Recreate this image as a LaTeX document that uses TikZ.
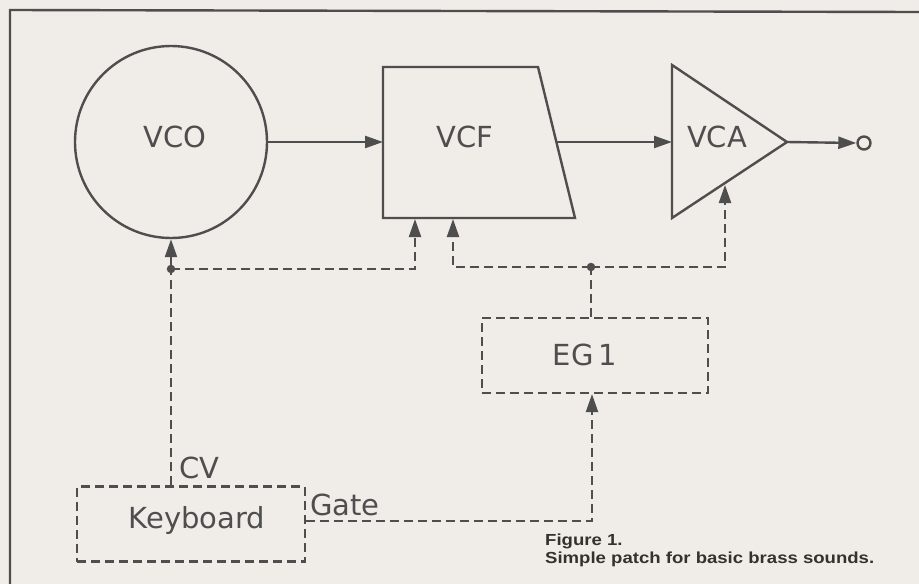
\documentclass[tikz,border=0pt]{standalone}
\usepackage{fontspec}
\usepackage{graphicx}
\usetikzlibrary{arrows.meta}
\setmainfont{DejaVu Sans}
\newfontfamily\capfont{Liberation Sans}
\definecolor{bg}{RGB}{240,236,232}
\definecolor{ink}{RGB}{78,78,78}
\definecolor{capink}{RGB}{50,50,46}
\begin{document}
\begin{tikzpicture}[x=1pt,y=-1pt,
  solidln/.style={draw=ink,line width=2.4pt},
  dline/.style={draw=ink,line width=2.2pt,dash pattern=on 9pt off 5pt},
  arr/.style={-{Triangle[length=18pt,width=12pt]}},
  lbl/.style={text=ink,font=\fontsize{29}{34}\selectfont,inner sep=0pt},
  dbox/.style={dline,rectangle,inner sep=0pt},
  dotnode/.style={circle,fill=ink,inner sep=0pt,minimum size=8.5pt},
  captext/.style={text=capink,font=\capfont\bfseries\fontsize{16}{19}\selectfont,inner sep=0pt,anchor=base west}]
\fill[bg] (0,0) rectangle (919,584);
\useasboundingbox (0,0) rectangle (919,584);
% frame
\draw[solidln] (10,584) -- (10,10) -- (919,12);
% VCO
\node[circle,solidln,minimum size=192pt,inner sep=0pt] (vco) at (171,142) {};
\node[lbl] (vcot) at (175,137) {VCO};
% VCF trapezoid
\coordinate (vcftl) at (383,67);
\coordinate (vcftr) at (538,67);
\coordinate (vcfbr) at (575,218);
\coordinate (vcfbl) at (383,218);
\draw[solidln] (vcftl) -- (vcftr) -- (vcfbr) -- (vcfbl) -- cycle;
\node[lbl] (vcft) at (465,137) {VCF};
\coordinate (vcfin) at (383,142);
\coordinate (vcfout) at (556,142);
\coordinate (vcfc1) at (415,219);
\coordinate (vcfc2) at (453,219);
% VCA triangle
\coordinate (vcat) at (672,65);
\coordinate (vcab) at (672,218);
\coordinate (vcaout) at (787,142);
\draw[solidln] (vcat) -- (vcaout) -- (vcab) -- cycle;
\node[lbl] (vcatxt) at (717,137) {VCA};
\coordinate (vcain) at (672,142);
\coordinate (vcac) at (725,185);
% output
\node[circle,solidln,fill=bg,minimum size=13pt,inner sep=0pt] (out) at (864,143) {};
% audio path
\draw[solidln,arr] (vco.east) -- (vcfin);
\draw[solidln,arr] (vcfout) -- (vcain);
\draw[solidln,arr] (vcaout) -- (out.west);
% keyboard and EG
\node[dbox,minimum width=228pt,minimum height=75pt] (kb) at (191,524) {};
\node[lbl] (kbt) at (197,520) {Keyboard};
\node[dbox,minimum width=226pt,minimum height=75pt] (eg) at (595,355.5) {};
\node[lbl] (egt) at (585,355) {EG\,1};
% control lines
\node[dotnode] (dot1) at (171,269) {};
\node[dotnode] (dot2) at (591,267) {};
\draw[dline,arr] (dot1) -- (vco.south);
\draw[dline,arr] (dot1.center) -| (vcfc1);
\draw[dline] (dot1 |- kb.north) -- (dot1.center);
\draw[dline] (eg.north -| dot2) -- (dot2.center);
\draw[dline,arr] (dot2.center) -| (vcfc2);
\draw[dline,arr] (dot2.center) -| (vcac);
\coordinate (gcorner) at (592,521);
\draw[dline,arr] (kb.east |- gcorner) -- (gcorner) -- (eg.south -| gcorner);
% labels
\node[lbl,anchor=west] (cv) at (179,468) {CV};
\node[lbl,anchor=west] (gate) at (310,505) {Gate};
\node[captext] (fig) at (545,545) {\scalebox{1.16}[1]{Figure 1.}};
\node[captext] (capt) at (545,563) {\scalebox{1.16}[1]{Simple patch for basic brass sounds.}};
\end{tikzpicture}
\end{document}
